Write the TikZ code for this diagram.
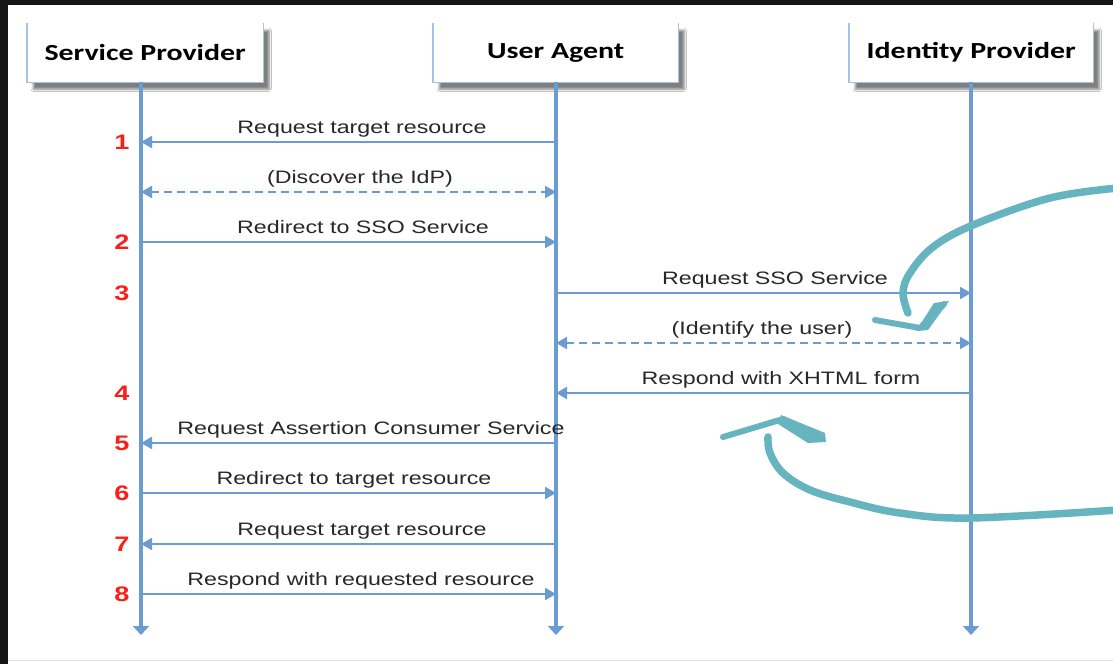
\documentclass[tikz,border=0pt]{standalone}
\usepackage{fontspec}
\setmainfont{Liberation Sans}[FakeStretch=1.29]
\newfontfamily\titlefont{Carlito}[FakeStretch=1.3]
\usetikzlibrary{arrows.meta,shadows.blur}
\definecolor{lineblue}{RGB}{106,155,210}
\definecolor{boxblue}{RGB}{165,195,228}
\definecolor{numred}{RGB}{250,30,25}
\definecolor{teal2}{RGB}{102,180,192}
\definecolor{txt}{RGB}{40,40,40}
\definecolor{frame}{RGB}{22,22,22}
\begin{document}
\begin{tikzpicture}[x=1pt,y=-1pt,
  actor/.style={fill=white,minimum height=59pt,inner sep=0pt,
     blur shadow={shadow xshift=6pt,shadow yshift=-7pt,shadow opacity=50,shadow blur steps=6},
     font=\titlefont\bfseries\fontsize{23}{26}\selectfont, text=black},
  life/.style={lineblue,line width=3.4pt,-{Triangle[length=9pt,width=16pt]}},
  msg/.style={lineblue,line width=2.2pt,>={Triangle[length=11pt,width=12pt]}},
  lab/.style={anchor=base,font=\fontsize{18}{20}\selectfont,text=txt,inner sep=0pt},
  num/.style={font=\bfseries\fontsize{21}{22}\selectfont,text=numred,inner sep=0pt},
  scribble/.style={teal2,line width=7.5pt,line cap=round,line join=round}]
\useasboundingbox (0,0) rectangle (1113,664);
\fill[frame] (0,0) rectangle (1113,664);
\fill[white] (8,5) rectangle (1113,664);
\draw[black!12,line width=1pt] (8,660.5) -- (1113,660.5);

% actors
\node[actor,minimum width=236pt,anchor=north west] (SP) at (27,23) {Service Provider};
\node[actor,minimum width=245pt,anchor=north west] (UA) at (433,23) {User Agent};
\node[actor,minimum width=244pt,anchor=north west] (IDP) at (849,23) {Identity Provider};
\foreach \b in {SP,UA,IDP}
  \draw[boxblue,line width=1.4pt] (\b.north west) -- (\b.south west) -- (\b.south east) -- (\b.north east);

% lifelines
\coordinate (spT) at (141,82);  \coordinate (spB) at (141,635);
\coordinate (uaT) at (556,82);  \coordinate (uaB) at (556,635);
\coordinate (idT) at (971,82);  \coordinate (idB) at (971,635);
\draw[life] (spT) -- (spB);
\draw[life] (uaT) -- (uaB);
\draw[life] (idT) -- (idB);

% message rows
\foreach \n/\y in {r1/142,r1b/192,r2/242,r3/293,r3b/343,r4/393,r5/443,r6/493,r7/544,r8/594}
  \coordinate (\n) at (0,\y);

\draw[msg,<-] (spT |- r1) -- (uaT |- r1);
\draw[msg,dash pattern=on 8pt off 5pt,<->] (spT |- r1b) -- (uaT |- r1b);
\draw[msg,->] (spT |- r2) -- (uaT |- r2);
\draw[msg,->] (uaT |- r3) -- (idT |- r3);
\draw[msg,dash pattern=on 8pt off 5pt,<->] (uaT |- r3b) -- (idT |- r3b);
\draw[msg,<-] (uaT |- r4) -- (idT |- r4);
\draw[msg,<-] (spT |- r5) -- (uaT |- r5);
\draw[msg,->] (spT |- r6) -- (uaT |- r6);
\draw[msg,<-] (spT |- r7) -- (uaT |- r7);
\draw[msg,->] (spT |- r8) -- (uaT |- r8);

% labels
\node[lab] (l1) at (362,133) {Request target resource};
\node[lab] (l1b) at (360,183) {(Discover the IdP)};
\node[lab] (l2) at (363,233) {Redirect to SSO Service};
\node[lab] (l3) at (775,284) {Request SSO Service};
\node[lab] (l3b) at (762,334) {(Identify the user)};
\node[lab] (l4) at (781,384) {Respond with XHTML form};
\node[lab] (l5) at (371,434) {Request Assertion Consumer Service};
\node[lab] (l6) at (354,484) {Redirect to target resource};
\node[lab] (l7) at (362,535) {Request target resource};
\node[lab] (l8) at (361,585) {Respond with requested resource};

% step numbers
\node[num] (n1) at (122,142) {1};
\node[num] (n2) at (122,242) {2};
\node[num] (n3) at (122,293) {3};
\node[num] (n4) at (122,393) {4};
\node[num] (n5) at (122,443) {5};
\node[num] (n6) at (122,493) {6};
\node[num] (n7) at (122,544) {7};
\node[num] (n8) at (122,594) {8};

% hand-drawn annotation arrows
\coordinate (a1s) at (1118,188);
\draw[scribble] plot[smooth,tension=0.6] coordinates
  {(a1s) (1050,198) (973,225) (933,247) (910,273) (903,293) (908,313)};
\draw[scribble,line width=6pt] (875,320) -- (920,328) -- (944,304);
\fill[teal2] (916,331) -- (934,303) -- (949,301) -- (928,330) -- cycle;

\coordinate (a2s) at (1118,510);
\draw[scribble] plot[smooth,tension=0.6] coordinates
  {(a2s) (970,518) (900,513) (850,502) (810,490) (783,473) (770,453) (768,437)};
\draw[scribble,line width=6pt] (723,437) -- (783,419) -- (822,438);
\fill[teal2] (781,415) -- (825,433) -- (826,442) -- (808,443) -- (778,424) -- cycle;
\end{tikzpicture}
\end{document}
